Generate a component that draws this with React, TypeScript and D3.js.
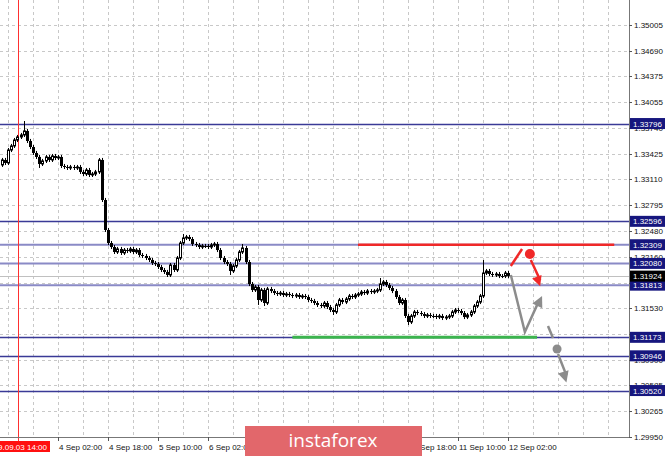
import React from 'react';
import * as d3 from 'd3';

const W = 665;
const H = 456;

// ---- data ----
const firstOpen = 1.33288;
const closes = [
  1.33349, 1.33312, 1.33471, 1.33521, 1.33594, 1.33631, 1.33656, 1.33705, 1.33582, 1.33508,
  1.33435, 1.33386, 1.33300, 1.33337, 1.33386, 1.33349, 1.33398, 1.33373, 1.33386, 1.33275,
  1.33263, 1.33251, 1.33263, 1.33251, 1.33263, 1.33202, 1.33177, 1.33226, 1.33165, 1.33177,
  1.33202, 1.33349, 1.32858, 1.32490, 1.32330, 1.32281, 1.32220, 1.32257, 1.32208, 1.32244,
  1.32232, 1.32257, 1.32220, 1.32244, 1.32183, 1.32171, 1.32146, 1.32122, 1.32085, 1.32073,
  1.32036, 1.31999, 1.31975, 1.31938, 1.32060, 1.31999, 1.32146, 1.32330, 1.32392, 1.32404,
  1.32379, 1.32318, 1.32306, 1.32281, 1.32294, 1.32294, 1.32281, 1.32306, 1.32318, 1.32244,
  1.32146, 1.32097, 1.32073, 1.31987, 1.32048, 1.32122, 1.32220, 1.32269, 1.32097, 1.31827,
  1.31754, 1.31791, 1.31631, 1.31754, 1.31594, 1.31766, 1.31741, 1.31717, 1.31705, 1.31717,
  1.31692, 1.31705, 1.31692, 1.31680, 1.31692, 1.31668, 1.31680, 1.31668, 1.31631, 1.31619,
  1.31594, 1.31570, 1.31557, 1.31594, 1.31545, 1.31508, 1.31484, 1.31570, 1.31631, 1.31606,
  1.31643, 1.31680, 1.31668, 1.31692, 1.31705, 1.31729, 1.31717, 1.31741, 1.31729, 1.31741,
  1.31754, 1.31827, 1.31852, 1.31815, 1.31778, 1.31741, 1.31668, 1.31594, 1.31631, 1.31435,
  1.31361, 1.31435, 1.31484, 1.31471, 1.31459, 1.31435, 1.31447, 1.31435, 1.31435, 1.31422,
  1.31435, 1.31410, 1.31422, 1.31435, 1.31484, 1.31508, 1.31496, 1.31471, 1.31422, 1.31447,
  1.31484, 1.31557, 1.31606, 1.31680, 1.31962, 1.31987, 1.31950, 1.31938, 1.31950, 1.31925,
  1.31925, 1.31962, 1.31924,
];
const highSpikes: [number, number][] = [
  [7, 1.33827], [31, 1.33373], [58, 1.32441], [77, 1.32318], [121, 1.31901], [154, 1.32122],
];
const lowSpikes: [number, number][] = [
  [0, 1.33263], [12, 1.33251], [53, 1.31913], [73, 1.31938], [82, 1.31570], [84, 1.31557],
  [106, 1.31447], [130, 1.31324],
];
const wickSize = 0.00025;

const yTicks = [
  1.35005, 1.3469, 1.34375, 1.34055, 1.3374, 1.33425, 1.3311, 1.32795, 1.3248, 1.3216,
  1.31845, 1.3153, 1.31215, 1.309, 1.30585, 1.30265, 1.2995,
];
const levelsDark = [1.33796, 1.32596, 1.31173, 1.30946, 1.3052];
const levelsLight = [1.32309, 1.3208, 1.31813];
const currentPrice = 1.31924;

const xTickIdx = [18, 34, 50, 66, 82, 98, 114, 130, 146, 162];
const xTickLabels = [
  '4 Sep 02:00', '4 Sep 18:00', '5 Sep 10:00', '6 Sep 02:00', '6 Sep 18:00',
  '9 Sep 10:00', '10 Sep 02:00', '10 Sep 18:00', '11 Sep 10:00', '12 Sep 02:00',
];
const markerIdx = 5.25;
const markerLabel = '2019.09.03 14:00';

// forecast annotations [barIndex, price]
const resistance: [number, number][] = [[114, 1.32309], [196, 1.32309]];
const support: [number, number][] = [[93, 1.31173], [171.3, 1.31173]];
const redTail: [number, number][] = [[162.9, 1.32048], [166.5, 1.32257]];
const redDot: [number, number] = [169, 1.32195];
const redArrow: [number, number][] = [[169.3, 1.32122], [172.3, 1.31800]];
const greyPath: [number, number][] = [[162.9, 1.31938], [167.4, 1.31238], [172.9, 1.31680]];
const greyDash: [number, number][] = [[174.8, 1.31312], [176.4, 1.31165]];
const greyDot: [number, number] = [177.7, 1.3103];
const greyArrow: [number, number][] = [[178, 1.30968], [180.7, 1.30620]];

const FONT = '"Liberation Sans", Arial, sans-serif';

function arrowHead(x1: number, y1: number, x2: number, y2: number, len: number, half: number) {
  const a = Math.atan2(y2 - y1, x2 - x1);
  const bx = x2 - len * Math.cos(a);
  const by = y2 - len * Math.sin(a);
  const px = -Math.sin(a) * half;
  const py = Math.cos(a) * half;
  return `M${x2},${y2}L${bx + px},${by + py}L${bx - px},${by - py}Z`;
}

export default function App() {
  const plotRight = 629;
  const plotBottom = 437;
  const x = d3.scaleLinear().domain([0, 162]).range([1.75, 508]);
  const y = d3.scaleLinear().domain([1.2995, 1.35005]).range([437, 25]);

  const hiMap = new Map(highSpikes);
  const loMap = new Map(lowSpikes);
  const candles = closes.map((c, i) => {
    const o = i === 0 ? firstOpen : closes[i - 1];
    const h = hiMap.get(i) ?? Math.max(o, c) + wickSize;
    const l = loMap.get(i) ?? Math.min(o, c) - wickSize;
    return { i, o, h, l, c };
  });

  const gridX: number[] = [];
  for (let k = 2; x(k) < plotRight; k += 8) gridX.push(x(k));

  const line = d3.line<[number, number]>().x((d) => x(d[0])).y((d) => y(d[1]));
  const ra = redArrow.map((d) => [x(d[0]), y(d[1])]);
  const ga = greyArrow.map((d) => [x(d[0]), y(d[1])]);
  const gp = greyPath.map((d) => [x(d[0]), y(d[1])]);

  return (
    <svg width={W} height={H} style={{ position: 'absolute', left: 0, top: 0, background: '#fff' }}>
      <rect x={0} y={0} width={W} height={H} fill="#fff" />
      {/* grid */}
      {yTicks.map((t) => (
        <line key={'gy' + t} x1={0} x2={plotRight} y1={Math.round(y(t)) + 0.5} y2={Math.round(y(t)) + 0.5}
          stroke="#c8c8c8" strokeDasharray="3,3" />
      ))}
      {gridX.map((gx) => (
        <line key={'gx' + gx} x1={Math.round(gx) + 0.5} x2={Math.round(gx) + 0.5} y1={0} y2={plotBottom}
          stroke="#c8c8c8" strokeDasharray="3,3" />
      ))}
      {/* current price line */}
      <line x1={0} x2={plotRight} y1={Math.round(y(currentPrice)) + 0.5} y2={Math.round(y(currentPrice)) + 0.5}
        stroke="#c0c0c0" strokeWidth={1} />
      {/* levels */}
      {levelsLight.map((v) => (
        <line key={'ll' + v} x1={0} x2={plotRight} y1={y(v)} y2={y(v)} stroke="#8a8ac6" strokeWidth={2} />
      ))}
      {levelsDark.map((v) => (
        <line key={'ld' + v} x1={0} x2={plotRight} y1={Math.round(y(v)) + 0.5} y2={Math.round(y(v)) + 0.5}
          stroke="#3a3a96" strokeWidth={1.3} />
      ))}
      {/* support/resistance */}
      <path d={line(resistance) || ''} stroke="#f02828" strokeWidth={2.5} fill="none" />
      <path d={line(support) || ''} stroke="#3cb44e" strokeWidth={3} fill="none" />
      {/* marker line */}
      <line x1={Math.round(x(markerIdx)) + 0.5} x2={Math.round(x(markerIdx)) + 0.5} y1={0} y2={plotBottom + 4}
        stroke="#ff3030" strokeWidth={1} />
      {/* candles */}
      {candles.map((d) => {
        const cx = Math.round(x(d.i));
        const top = Math.min(y(d.o), y(d.c));
        const bot = Math.max(y(d.o), y(d.c));
        const bull = d.c > d.o;
        return (
          <g key={'c' + d.i}>
            <line x1={cx + 0.5} x2={cx + 0.5} y1={y(d.h)} y2={y(d.l)} stroke="#000" strokeWidth={1} />
            {bull ? (
              <rect x={cx - 0.5} y={top} width={2} height={Math.max(bot - top, 1)} fill="#fff" stroke="#000" strokeWidth={1} />
            ) : (
              <rect x={cx - 1} y={top} width={3} height={Math.max(bot - top, 1)} fill="#000" />
            )}
          </g>
        );
      })}
      {/* forecast */}
      <path d={line(redTail) || ''} stroke="#f02828" strokeWidth={2.5} fill="none" />
      <circle cx={x(redDot[0])} cy={y(redDot[1])} r={5} fill="#f02828" />
      <line x1={ra[0][0]} y1={ra[0][1]} x2={ra[1][0]} y2={ra[1][1] - 6} stroke="#f02828" strokeWidth={2.5} />
      <path d={arrowHead(ra[0][0], ra[0][1], ra[1][0], ra[1][1], 10, 5)} fill="#f02828" />
      <path d={line([greyPath[0], greyPath[1], [greyPath[2][0] - 1, greyPath[2][1] - 0.0006]]) || ''}
        stroke="#8c8c8c" strokeWidth={2.5} fill="none" strokeLinejoin="miter" />
      <path d={arrowHead(gp[1][0], gp[1][1], gp[2][0], gp[2][1], 11, 5.5)} fill="#8c8c8c" />
      <path d={line(greyDash) || ''} stroke="#8c8c8c" strokeWidth={2.5} fill="none" />
      <circle cx={x(greyDot[0])} cy={y(greyDot[1])} r={4.5} fill="#8c8c8c" />
      <line x1={ga[0][0]} y1={ga[0][1]} x2={ga[1][0]} y2={ga[1][1] - 7} stroke="#8c8c8c" strokeWidth={2.5} />
      <path d={arrowHead(ga[0][0], ga[0][1], ga[1][0], ga[1][1], 11, 5.5)} fill="#8c8c8c" />
      {/* frame */}
      <line x1={plotRight + 0.5} x2={plotRight + 0.5} y1={0} y2={plotBottom + 1} stroke="#777" />
      <line x1={0} x2={plotRight + 1} y1={plotBottom + 0.5} y2={plotBottom + 0.5} stroke="#777" />
      {/* y ticks */}
      {yTicks.map((t) => (
        <g key={'yt' + t}>
          <line x1={plotRight} x2={plotRight + 3} y1={Math.round(y(t)) + 0.5} y2={Math.round(y(t)) + 0.5} stroke="#555" />
          <text x={634} y={y(t) + 3} fontSize={8} fontFamily={FONT} fill="#111">{t.toFixed(5)}</text>
        </g>
      ))}
      {/* level labels */}
      {[...levelsDark, ...levelsLight].map((v) => (
        <g key={'lb' + v}>
          <rect x={630} y={y(v) - 5.5} width={35} height={11} fill="#16167e" />
          <text x={633} y={y(v) + 3} fontSize={8} fontFamily={FONT} fill="#fff">{v.toFixed(5)}</text>
        </g>
      ))}
      <rect x={630} y={y(currentPrice) - 5.5} width={35} height={11} fill="#000" />
      <text x={633} y={y(currentPrice) + 3} fontSize={8} fontFamily={FONT} fill="#fff">{currentPrice.toFixed(5)}</text>
      {/* x ticks */}
      {xTickIdx.map((ti, k) => (
        <g key={'xt' + ti}>
          <line x1={Math.round(x(ti)) + 0.5} x2={Math.round(x(ti)) + 0.5} y1={plotBottom} y2={plotBottom + 4} stroke="#555" />
          <text x={Math.round(x(ti)) + 1} y={450} fontSize={8} fontFamily={FONT} fill="#111">{xTickLabels[k]}</text>
        </g>
      ))}
      <rect x={0} y={441} width={50} height={11} fill="#ff1010" />
      <text x={47} y={450} fontSize={8} fontFamily={FONT} fill="#fff" textAnchor="end">{markerLabel}</text>
      {/* logo */}
      <rect x={245} y={426} width={177} height={30} fill="#e2676b" />
      <text x={333} y={447} fontSize={19} fontFamily='"Open Sans", sans-serif' fill="#fff" textAnchor="middle">instaforex</text>
    </svg>
  );
}
